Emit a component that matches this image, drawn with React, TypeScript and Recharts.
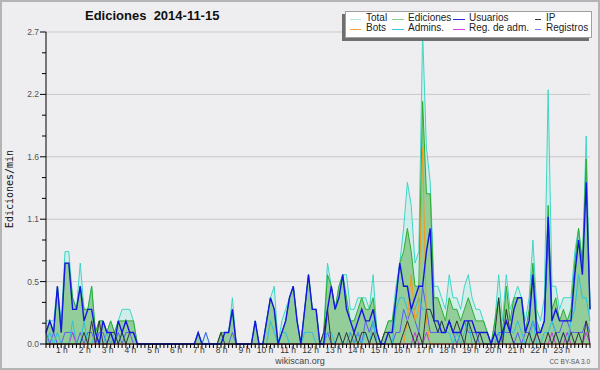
import { ComposedChart, Area, Line, XAxis, YAxis, CartesianGrid } from 'recharts'

// values per 10-minute slot (edits/min), 6 per hour
const total = [
  0.2, 0.2, 0.2, 0.5, 0.2, 0.8,
  0.8, 0.4, 0.3, 0.7, 0.3, 0.3,
  0.5, 0.1, 0.2, 0.2, 0.1, 0.2,
  0.1, 0.2, 0.3, 0.3, 0.3, 0.2,
  0, 0, 0, 0, 0, 0,
  0, 0, 0, 0, 0, 0,
  0, 0, 0, 0, 0.1, 0,
  0.1, 0, 0, 0, 0.1, 0.1,
  0.1, 0.4, 0, 0, 0, 0,
  0, 0.2, 0, 0, 0.2, 0.4,
  0.5, 0, 0.2, 0.3, 0.4, 0.5,
  0.2, 0, 0.3, 0.6, 0.3, 0.3,
  0, 0.1, 0.7, 0.5, 0.3, 0.5,
  0.6, 0.6, 0.3, 0.3, 0.4, 0.4,
  0.4, 0.3, 0.6, 0.1, 0, 0.1,
  0.2, 0.2, 0.5, 0.7, 1.0, 1.4,
  1.2, 0.7, 0.8, 2.7, 1.7, 1.4,
  0.5, 0.5, 0.4, 0.3, 0.6, 0.4,
  0.4, 0.3, 0.5, 0.6, 0.4, 0.3,
  0.3, 0.2, 0.1, 0, 0.2, 0.6,
  0.2, 0.6, 0.3, 0.4, 0.5, 0.4,
  0.2, 0.4, 0.9, 0.3, 0.2, 0.4,
  2.2, 0.5, 0.5, 0.3, 0.4, 0.4,
  0.4, 0.8, 1.0, 0.7, 1.8, 0.3,
]

const ediciones = [
  0.1, 0.2, 0.1, 0.5, 0.1, 0.7,
  0.7, 0.4, 0.3, 0.5, 0.3, 0.3,
  0.5, 0.1, 0.2, 0.2, 0.1, 0.2,
  0.1, 0.2, 0.2, 0.2, 0.2, 0.2,
  0, 0, 0, 0, 0, 0,
  0, 0, 0, 0, 0, 0,
  0, 0, 0, 0, 0.1, 0,
  0, 0, 0, 0, 0.1, 0.1,
  0.1, 0.3, 0, 0, 0, 0,
  0, 0.2, 0, 0, 0.2, 0.4,
  0.3, 0, 0.1, 0.2, 0.4, 0.5,
  0.2, 0, 0.3, 0.6, 0.3, 0.3,
  0, 0.1, 0.6, 0.5, 0.3, 0.5,
  0.6, 0.4, 0.2, 0.2, 0.3, 0.4,
  0.3, 0.3, 0.4, 0.1, 0, 0.1,
  0.2, 0.2, 0.4, 0.7, 0.8, 1.0,
  0.8, 0.5, 0.5, 2.1, 1.3, 1.3,
  0.4, 0.4, 0.3, 0.2, 0.4, 0.3,
  0.3, 0.2, 0.3, 0.4, 0.3, 0.2,
  0.2, 0.2, 0.1, 0, 0.2, 0.4,
  0.1, 0.5, 0.2, 0.4, 0.4, 0.4,
  0.1, 0.3, 0.7, 0.2, 0.1, 0.2,
  1.2, 0.3, 0.4, 0.2, 0.3, 0.2,
  0.3, 0.7, 1.0, 0.7, 1.6, 0.3,
]

const usuarios = [
  0.1, 0.2, 0.1, 0.5, 0.1, 0.7,
  0.7, 0.3, 0.3, 0.5, 0.2, 0.3,
  0.3, 0.1, 0, 0.2, 0.1, 0.1,
  0, 0.2, 0.1, 0.2, 0.1, 0.1,
  0, 0, 0, 0, 0, 0,
  0, 0, 0, 0, 0, 0,
  0, 0, 0, 0, 0.1, 0,
  0, 0, 0, 0, 0, 0.1,
  0.1, 0.3, 0, 0, 0, 0,
  0, 0.2, 0, 0, 0.2, 0.4,
  0.3, 0, 0.1, 0.2, 0.4, 0.5,
  0.2, 0, 0.3, 0.6, 0.3, 0.3,
  0, 0, 0.3, 0.5, 0.3, 0.4,
  0.6, 0.3, 0.2, 0.1, 0.2, 0.3,
  0.2, 0.2, 0.3, 0.1, 0, 0,
  0.1, 0.1, 0.4, 0.7, 0.5, 0.5,
  0.3, 0.4, 0.5, 0.5, 0.8, 1.0,
  0.2, 0.2, 0.1, 0.1, 0.2, 0.1,
  0.1, 0.1, 0.2, 0.2, 0.2, 0.1,
  0.1, 0.1, 0.1, 0, 0.1, 0,
  0.1, 0.2, 0.1, 0.3, 0.4, 0.4,
  0.1, 0.2, 0.6, 0.1, 0.1, 0.2,
  1.1, 0.2, 0.3, 0.2, 0.2, 0.2,
  0.2, 0.6, 0.9, 0.6, 1.4, 0.3,
]

const ip = [
  0, 0, 0, 0, 0, 0,
  0, 0, 0, 0, 0.1, 0,
  0.2, 0, 0.2, 0, 0, 0.1,
  0.1, 0, 0.1, 0, 0.1, 0.1,
  0, 0, 0, 0, 0, 0,
  0, 0, 0, 0, 0, 0,
  0, 0, 0, 0, 0, 0,
  0, 0, 0, 0, 0.1, 0,
  0, 0, 0, 0, 0, 0,
  0, 0, 0, 0, 0, 0,
  0, 0, 0, 0, 0, 0,
  0, 0, 0, 0, 0, 0,
  0, 0.1, 0.3, 0, 0, 0.1,
  0, 0.1, 0, 0.1, 0, 0.1,
  0.1, 0, 0.1, 0, 0, 0.1,
  0.1, 0, 0, 0, 0.1, 0.2,
  0.1, 0, 0.1, 0, 0.3, 0.3,
  0.2, 0.1, 0.2, 0.1, 0.2, 0.1,
  0.2, 0.1, 0, 0.2, 0.1, 0,
  0.1, 0, 0, 0, 0.1, 0.4,
  0, 0.3, 0.1, 0, 0, 0,
  0, 0.1, 0, 0.1, 0, 0,
  0.1, 0, 0.1, 0, 0.1, 0,
  0.1, 0, 0.1, 0, 0.2, 0,
]

const bots = [
  0, 0, 0, 0, 0, 0,
  0, 0, 0, 0, 0, 0,
  0, 0, 0, 0, 0, 0,
  0, 0, 0, 0, 0, 0,
  0, 0, 0, 0, 0, 0,
  0, 0, 0, 0, 0, 0,
  0, 0, 0, 0, 0, 0,
  0, 0, 0, 0, 0, 0,
  0, 0, 0, 0, 0, 0,
  0, 0, 0, 0, 0, 0,
  0, 0, 0, 0, 0, 0,
  0, 0, 0, 0, 0, 0,
  0, 0, 0, 0, 0, 0,
  0, 0, 0, 0, 0, 0,
  0, 0, 0, 0, 0, 0,
  0, 0, 0, 0, 0, 0.2,
  0.6, 0.2, 0.3, 1.7, 0.2, 0,
  0, 0, 0, 0, 0, 0,
  0, 0, 0, 0, 0, 0,
  0, 0, 0, 0, 0, 0,
  0, 0, 0, 0, 0, 0,
  0, 0, 0, 0, 0, 0,
  0, 0, 0, 0, 0, 0,
  0, 0, 0, 0, 0, 0,
]

const admins = [
  0, 0.1, 0, 0.1, 0, 0,
  0, 0.2, 0, 0, 0.2, 0,
  0, 0.1, 0, 0, 0.1, 0,
  0.1, 0, 0.1, 0, 0, 0,
  0, 0, 0, 0, 0, 0,
  0, 0, 0, 0, 0, 0,
  0, 0, 0, 0, 0, 0,
  0, 0, 0, 0, 0, 0,
  0, 0, 0, 0, 0, 0,
  0, 0, 0, 0, 0, 0.2,
  0.1, 0, 0.1, 0.1, 0, 0,
  0, 0, 0.1, 0.1, 0.1, 0,
  0, 0, 0.1, 0.1, 0, 0.1,
  0, 0, 0.1, 0, 0.1, 0,
  0.1, 0, 0.2, 0, 0, 0,
  0, 0, 0.3, 0.4, 0.4, 0.3,
  0.3, 0.3, 0.4, 0.3, 0.3, 0.3,
  0.2, 0.1, 0.2, 0.1, 0.1, 0,
  0.1, 0, 0.1, 0.2, 0, 0,
  0.1, 0, 0, 0, 0, 0.1,
  0, 0.2, 0.1, 0.1, 0.2, 0.1,
  0, 0, 0.2, 0, 0, 0.1,
  0.1, 0.2, 0.1, 0, 0.1, 0,
  0.2, 0.3, 0.6, 0.4, 0.4, 0.2,
]

const regAdm = [
  0, 0, 0, 0, 0, 0,
  0, 0.1, 0, 0, 0, 0,
  0, 0, 0, 0, 0, 0,
  0, 0, 0, 0, 0, 0,
  0, 0, 0, 0, 0, 0,
  0, 0, 0, 0, 0, 0,
  0, 0, 0, 0, 0, 0,
  0, 0, 0, 0, 0, 0,
  0, 0, 0, 0, 0, 0,
  0, 0, 0, 0, 0, 0,
  0, 0, 0, 0, 0, 0,
  0, 0, 0, 0, 0, 0,
  0, 0, 0, 0, 0, 0,
  0, 0, 0, 0, 0.1, 0,
  0, 0, 0, 0, 0, 0,
  0, 0, 0, 0, 0, 0,
  0, 0.1, 0, 0, 0.1, 0,
  0, 0, 0, 0, 0, 0,
  0, 0, 0, 0, 0, 0,
  0, 0, 0, 0, 0, 0,
  0, 0, 0, 0, 0, 0,
  0, 0, 0, 0.1, 0, 0,
  0, 0.1, 0, 0, 0, 0.1,
  0, 0, 0, 0, 0.1, 0,
]

const registros = [
  0.1, 0, 0.1, 0, 0, 0.1,
  0.1, 0.1, 0, 0.1, 0, 0.1,
  0.1, 0, 0.1, 0.1, 0, 0.1,
  0, 0.1, 0, 0.1, 0.1, 0,
  0, 0, 0, 0, 0, 0,
  0, 0, 0, 0, 0, 0,
  0, 0, 0, 0, 0, 0,
  0.1, 0, 0, 0, 0, 0,
  0, 0.1, 0, 0, 0, 0,
  0, 0, 0, 0, 0, 0,
  0, 0, 0, 0, 0, 0,
  0, 0, 0, 0, 0, 0,
  0, 0, 0.1, 0, 0, 0,
  0, 0, 0.1, 0, 0.1, 0,
  0.2, 0.1, 0.2, 0, 0, 0,
  0, 0, 0.1, 0.1, 0.3, 0.2,
  0.3, 0.2, 0.1, 0.5, 0.3, 0.1,
  0.1, 0.1, 0.1, 0.1, 0.2, 0.1,
  0, 0.1, 0.2, 0.1, 0.1, 0.1,
  0, 0, 0, 0, 0, 0.1,
  0.1, 0.1, 0.1, 0, 0.1, 0,
  0.1, 0.1, 0.2, 0.1, 0.1, 0.2,
  0.9, 0.2, 0.1, 0.1, 0.2, 0.2,
  0.1, 0.1, 0.1, 0.1, 0.2, 0.1,
]

const hourLabels = [
  '1 h', '2 h', '3 h', '4 h', '5 h', '6 h', '7 h', '8 h', '9 h', '10 h', '11 h', '12 h',
  '13 h', '14 h', '15 h', '16 h', '17 h', '18 h', '19 h', '20 h', '21 h', '22 h', '23 h',
]

const yTicks = [0, 0.18, 0.36, 0.54, 0.72, 0.9, 1.08, 1.26, 1.44, 1.62, 1.8, 1.98, 2.16, 2.34, 2.52, 2.7]
const yMajors = [0, 0.54, 1.08, 1.62, 2.16, 2.7]

const legendItems = [
  { name: 'Total', color: '#aee9df', col: 0, row: 0 },
  { name: 'Ediciones', color: '#84d284', col: 1, row: 0 },
  { name: 'Usuarios', color: '#2a2ae0', col: 2, row: 0 },
  { name: 'IP', color: '#333333', col: 3, row: 0 },
  { name: 'Bots', color: '#f4a23c', col: 0, row: 1 },
  { name: 'Admins.', color: '#3cc6e0', col: 1, row: 1 },
  { name: 'Reg. de adm.', color: '#d040e0', col: 2, row: 1 },
  { name: 'Registros', color: '#7474f4', col: 3, row: 1 },
]

const data = total.map((t, i) => ({
  slot: i,
  total: t,
  ediciones: ediciones[i],
  usuarios: usuarios[i],
  ip: ip[i],
  bots: bots[i],
  admins: admins[i],
  regAdm: regAdm[i],
  registros: registros[i],
}))

const slotTicks = total.map((_, i) => i)

// legend layout (page px)
const legLineX = [350, 392, 453, 535]
const legLineW = [11, 12, 12, 6]
const legTextX = [366, 408, 469, 546]
const legRowY = [19, 29]

const YTick = (props: any) => {
  const { x, y, payload } = props
  const major = yMajors.some(m => Math.abs(m - payload.value) < 1e-6)
  return (
    <g>
      <line x1={x - (major ? 6 : 4)} y1={y} x2={x} y2={y} stroke="#000" strokeWidth={1} />
      {major && (
        <text x={x - 7} y={y} dy={3} textAnchor="end" fontSize={8.5} fill="#555">
          {payload.value.toFixed(1)}
        </text>
      )}
    </g>
  )
}

const XTick = (props: any) => {
  const { x, y, payload } = props
  const v = payload.value
  if (v % 6 !== 0 || v === 0) return <g />
  return (
    <text x={x - 1} y={y + 5} textAnchor="end" fontSize={8.5} fill="#333">
      {hourLabels[v / 6 - 1]}
    </text>
  )
}

export default function App() {
  return (
    <div
      style={{
        position: 'absolute',
        left: 0,
        top: 0,
        width: 600,
        height: 370,
        background: '#eeeef0',
        boxShadow: 'inset 0 0 0 2px #b4b4b4',
        fontFamily: '"Liberation Sans", Arial, sans-serif',
        overflow: 'hidden',
      }}
    >
      <ComposedChart
        width={600}
        height={370}
        data={data}
        margin={{ top: 32, right: 10, bottom: 10, left: 0 }}
        style={{ fontFamily: '"Liberation Sans", Arial, sans-serif' }}
      >
        <CartesianGrid horizontal vertical={false} horizontalValues={yMajors} stroke="#c9c9cc" />
        <XAxis
          dataKey="slot"
          type="number"
          domain={[0, 143]}
          ticks={slotTicks}
          interval={0}
          height={16}
          tickSize={4}
          tickMargin={0}
          axisLine={{ stroke: '#000' }}
          tickLine={{ stroke: '#000' }}
          tick={XTick}
        />
        <YAxis
          type="number"
          domain={[0, 2.7]}
          ticks={yTicks}
          interval={0}
          width={46}
          tickSize={0}
          tickMargin={0}
          axisLine={{ stroke: '#000' }}
          tickLine={false}
          tick={YTick}
        />
        <Area type="linear" dataKey="total" stroke="none" fill="#bdeee4" fillOpacity={0.6} isAnimationActive={false} />
        <Area type="linear" dataKey="ediciones" stroke="none" fill="#7cc27c" fillOpacity={0.72} isAnimationActive={false} />
        <Line type="linear" dataKey="total" stroke="#3ed6c6" strokeWidth={1} dot={false} activeDot={false} isAnimationActive={false} />
        <Line type="linear" dataKey="ediciones" stroke="#2eac2e" strokeWidth={1} dot={false} activeDot={false} isAnimationActive={false} />
        <Line type="linear" dataKey="registros" stroke="#5c5cf2" strokeWidth={1} dot={false} activeDot={false} isAnimationActive={false} />
        <Line type="linear" dataKey="regAdm" stroke="#cc33dd" strokeWidth={1} dot={false} activeDot={false} isAnimationActive={false} />
        <Line type="linear" dataKey="admins" stroke="#2cc0e0" strokeWidth={1} dot={false} activeDot={false} isAnimationActive={false} />
        <Line type="linear" dataKey="bots" stroke="#f39a1c" strokeWidth={1} dot={false} activeDot={false} isAnimationActive={false} />
        <Line type="linear" dataKey="ip" stroke="#333" strokeWidth={1} dot={false} activeDot={false} isAnimationActive={false} />
        <Line type="linear" dataKey="usuarios" stroke="#1616e2" strokeWidth={1.4} dot={false} activeDot={false} isAnimationActive={false} />
      </ComposedChart>

      <div
        style={{
          position: 'absolute',
          left: 85,
          top: 9,
          fontSize: 13,
          lineHeight: '13px',
          fontWeight: 'bold',
          color: '#111',
          whiteSpace: 'pre',
        }}
      >
        {'Ediciones  2014-11-15'}
      </div>

      <div
        style={{
          position: 'absolute',
          left: 345,
          top: 11,
          width: 247,
          height: 27,
          boxSizing: 'border-box',
          background: '#fff',
          border: '1px solid #a0a0a0',
          boxShadow: '-3px 3px 0 #6f6f6f',
        }}
      />
      {legendItems.map(item => (
        <div key={item.name}>
          <div
            style={{
              position: 'absolute',
              left: legLineX[item.col],
              top: legRowY[item.row],
              width: legLineW[item.col],
              height: 1,
              background: item.color,
            }}
          />
          <div
            style={{
              position: 'absolute',
              left: legTextX[item.col],
              top: legRowY[item.row] - 7,
              fontSize: 10,
              lineHeight: '12px',
              color: '#222',
              whiteSpace: 'nowrap',
            }}
          >
            {item.name}
          </div>
        </div>
      ))}

      <div
        style={{
          position: 'absolute',
          left: 9,
          top: 189,
          transform: 'translate(-50%, -50%) rotate(-90deg)',
          fontFamily: '"DejaVu Sans Mono", monospace',
          fontSize: 10,
          color: '#111',
          whiteSpace: 'nowrap',
        }}
      >
        Ediciones/min
      </div>

      <div
        style={{
          position: 'absolute',
          left: 300,
          top: 356,
          transform: 'translateX(-50%)',
          fontSize: 9,
          lineHeight: '11px',
          color: '#444',
        }}
      >
        wikiscan.org
      </div>
      <div
        style={{
          position: 'absolute',
          right: 10,
          top: 358,
          fontSize: 6.5,
          lineHeight: '8px',
          color: '#555',
          whiteSpace: 'nowrap',
        }}
      >
        CC BY-SA 3.0
      </div>
    </div>
  )
}
